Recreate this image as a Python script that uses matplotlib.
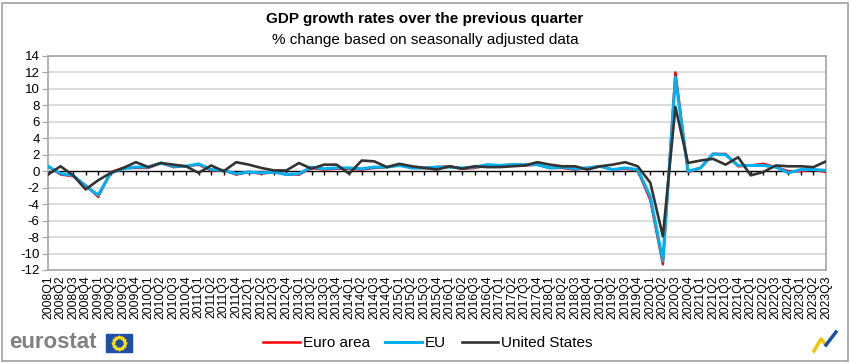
import matplotlib.pyplot as plt
from matplotlib.patches import Rectangle
import numpy as np

plt.rcParams['font.family'] = ['Liberation Sans', 'DejaVu Sans']
plt.rcParams['axes.unicode_minus'] = False

# quarters 2008Q1 .. 2023Q3
quarters = ['{}Q{}'.format(y, q) for y in range(2008, 2024) for q in range(1, 5)][:63]

euro_area = [0.6, -0.4, -0.6, -1.7, -3.1, -0.1, 0.4, 0.4,
             0.4, 1.0, 0.5, 0.6, 0.8, 0.1, 0.1, -0.4,
             -0.1, -0.3, -0.1, -0.4, -0.4, 0.4, 0.2, 0.3,
             0.3, 0.2, 0.4, 0.5, 0.8, 0.4, 0.4, 0.5,
             0.6, 0.3, 0.4, 0.7, 0.7, 0.8, 0.7, 0.8,
             0.4, 0.4, 0.2, 0.4, 0.6, 0.2, 0.3, 0.1,
             -3.5, -11.3, 12.0, -0.1, 0.4, 2.1, 2.1, 0.6,
             0.7, 0.9, 0.5, 0.0, 0.0, 0.2, -0.1]

eu = [0.6, -0.3, -0.5, -1.8, -2.9, -0.2, 0.3, 0.5,
      0.5, 1.0, 0.6, 0.6, 0.9, 0.2, 0.1, -0.3,
      -0.1, -0.2, -0.1, -0.4, -0.3, 0.5, 0.3, 0.4,
      0.4, 0.3, 0.5, 0.5, 0.7, 0.4, 0.4, 0.5,
      0.5, 0.4, 0.5, 0.8, 0.7, 0.8, 0.8, 0.8,
      0.4, 0.5, 0.3, 0.4, 0.6, 0.2, 0.4, 0.2,
      -3.1, -10.9, 11.4, 0.0, 0.4, 2.1, 2.0, 0.7,
      0.7, 0.7, 0.5, -0.2, 0.2, 0.2, 0.1]

us = [-0.4, 0.6, -0.5, -2.2, -1.1, -0.2, 0.4, 1.1,
      0.5, 1.0, 0.8, 0.6, -0.2, 0.7, 0.0, 1.1,
      0.8, 0.4, 0.1, 0.1, 1.0, 0.3, 0.8, 0.8,
      -0.3, 1.3, 1.2, 0.5, 0.9, 0.6, 0.4, 0.2,
      0.6, 0.3, 0.6, 0.5, 0.5, 0.6, 0.7, 1.1,
      0.8, 0.6, 0.6, 0.2, 0.6, 0.8, 1.1, 0.6,
      -1.4, -7.9, 7.8, 1.0, 1.3, 1.5, 0.8, 1.7,
      -0.5, -0.1, 0.7, 0.6, 0.6, 0.5, 1.2]

x = np.arange(len(quarters))

fig = plt.figure(figsize=(8.5, 3.63), dpi=100)
ax = fig.add_axes([48 / 850, 1 - 270 / 363, (826 - 48) / 850, (270 - 56) / 363])

for yv in range(-12, 15, 2):
    if yv != 0:
        ax.axhline(yv, color='#d9d9d9', lw=1.3, zorder=0)

ax.plot(x, euro_area, color='#ff0000', lw=1.8, zorder=3, label='Euro area')
ax.plot(x, eu, color='#00b0f0', lw=2.2, zorder=4, label='EU')
ax.plot(x, us, color='#333333', lw=1.9, zorder=5, label='United States')

# category axis at zero with small ticks
ax.axhline(0, color='black', lw=1.0, zorder=2)
ax.vlines(x, -0.5, 0, color='black', lw=1.0, zorder=2)

ax.set_xlim(0, len(quarters) - 1)
ax.set_ylim(-12, 14)
ax.set_yticks(range(-12, 15, 2))
ax.set_xticks(x)
ax.set_xticklabels(quarters, rotation=90, fontsize=8.8)
ax.tick_params(axis='x', length=0, pad=4)
ax.tick_params(axis='y', labelsize=9.5, length=4, color='#a0a0a0', pad=2)
for s in ax.spines.values():
    s.set_color('#a6a6a6')
    s.set_linewidth(1.2)

fig.text(0.5, 1 - 19 / 363, 'GDP growth rates over the previous quarter',
         ha='center', va='center', fontsize=11, fontweight='bold')
fig.text(0.5, 1 - 40 / 363, '% change based on seasonally adjusted data',
         ha='center', va='center', fontsize=11)

fig.legend(loc='center', bbox_to_anchor=(428 / 850, 1 - 343 / 363), ncol=3,
           frameon=False, fontsize=11, handlelength=2.4, handletextpad=0.2,
           columnspacing=1.0)

# eurostat logo
fig.text(9 / 850, 1 - 343 / 363, 'eurostat', ha='left', va='center',
         fontsize=16, fontweight='bold', color='#808080')
fig.patches.append(Rectangle((106 / 850, 1 - 352 / 363), 26 / 850, 18 / 363,
                             transform=fig.transFigure, color='#1f4fa8'))
ang = np.linspace(0, 2 * np.pi, 12, endpoint=False)
fig.add_artist(plt.Line2D((119 + 6 * np.cos(ang)) / 850, 1 - (343 + 6 * np.sin(ang)) / 363,
                          ls='none', marker='*', ms=2.5, color='#ffdd00',
                          transform=fig.transFigure))
# small corner icon
fig.add_artist(plt.Line2D(np.array([814, 821, 826]) / 850, 1 - np.array([351, 339, 345]) / 363,
                          color='#f2c500', lw=2.5, transform=fig.transFigure))
fig.add_artist(plt.Line2D(np.array([826, 836]) / 850, 1 - np.array([345, 332]) / 363,
                          color='#1f4fa8', lw=2.5, transform=fig.transFigure))

# outer frame
fig.patches.append(Rectangle((2 / 850, 2 / 363), 846 / 850, 358 / 363, fill=False,
                             transform=fig.transFigure, edgecolor='#a0a0a0', lw=1.2))

fig.savefig('out.png', dpi=100)
